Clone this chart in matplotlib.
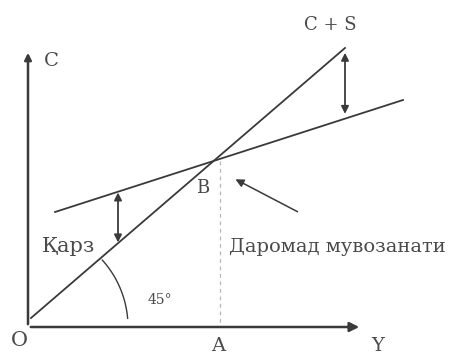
import numpy as np
import matplotlib.pyplot as plt

# diagram in image-like units (x right, y down)
line45_x = [31, 345]
line45_y = [318, 48]
cons_x = [55, 403]
cons_y = [212, 100]
axis_origin = (28, 327)
axis_x_end = 362
axis_y_end = 50

ink = "#3a3a3a"
txt = "#4a4a4a"

fig = plt.figure(figsize=(4.51, 3.57), dpi=100)
ax = fig.add_axes([0, 0, 1, 1])
ax.set_xlim(0, 451)
ax.set_ylim(357, 0)
ax.axis("off")

ox, oy = axis_origin
# axes with arrows
ax.annotate("", xy=(axis_x_end, oy), xytext=(ox, oy),
            arrowprops=dict(arrowstyle="-|>", color=ink, lw=1.8, mutation_scale=14))
ax.annotate("", xy=(ox, axis_y_end), xytext=(ox, oy),
            arrowprops=dict(arrowstyle="-|>", color=ink, lw=1.8, mutation_scale=10))

# 45 degree line and consumption line
ax.plot(line45_x, line45_y, color=ink, lw=1.3)
ax.plot(cons_x, cons_y, color=ink, lw=1.3)

# intersection B
k1 = (line45_y[1] - line45_y[0]) / (line45_x[1] - line45_x[0])
k2 = (cons_y[1] - cons_y[0]) / (cons_x[1] - cons_x[0])
bx = (cons_y[0] - line45_y[0] + k1 * line45_x[0] - k2 * cons_x[0]) / (k1 - k2)
by = line45_y[0] + k1 * (bx - line45_x[0])
ax.plot([bx + 6, bx + 6], [by, oy], color="#b8b8b8", lw=0.9, ls=(0, (3, 3)))

# double arrows between the lines
def gap(x):
    y1 = line45_y[0] + k1 * (x - line45_x[0])
    y2 = cons_y[0] + k2 * (x - cons_x[0])
    ax.annotate("", xy=(x, y1 + 2), xytext=(x, y2 - 2),
                arrowprops=dict(arrowstyle="<|-|>", color=ink, lw=1.3, mutation_scale=11))

gap(118)
gap(345)

# angle arc
th = np.linspace(np.radians(5), np.radians(42), 50)
ax.plot(ox + 100 * np.cos(th), oy - 100 * np.sin(th), color=ink, lw=1.0)

# pointer to equilibrium
ax.annotate("", xy=(233, 178), xytext=(300, 213),
            arrowprops=dict(arrowstyle="-|>", color=ink, lw=1.1, mutation_scale=12))

font = dict(family="DejaVu Serif", color=txt)
ax.text(44, 61, "C", fontsize=14, va="center", **font)
ax.text(ox - 9, 341, "O", fontsize=15, ha="center", va="center", **font)
ax.text(218, 346, "A", fontsize=14, ha="center", va="center", **font)
ax.text(378, 346, "Y", fontsize=14, ha="center", va="center", **font)
ax.text(203, 188, "B", fontsize=13, ha="center", va="center", **font)
ax.text(330, 25, "C + S", fontsize=13, ha="center", va="center", **font)
ax.text(42, 247, "Қарз", fontsize=15, ha="left", va="center", **font)
ax.text(229, 247, "Даромад мувозанати", fontsize=14, ha="left", va="center", **font)
ax.text(148, 300, "45°", fontsize=10, ha="left", va="center", **font)

fig.savefig("out.png", dpi=100)
